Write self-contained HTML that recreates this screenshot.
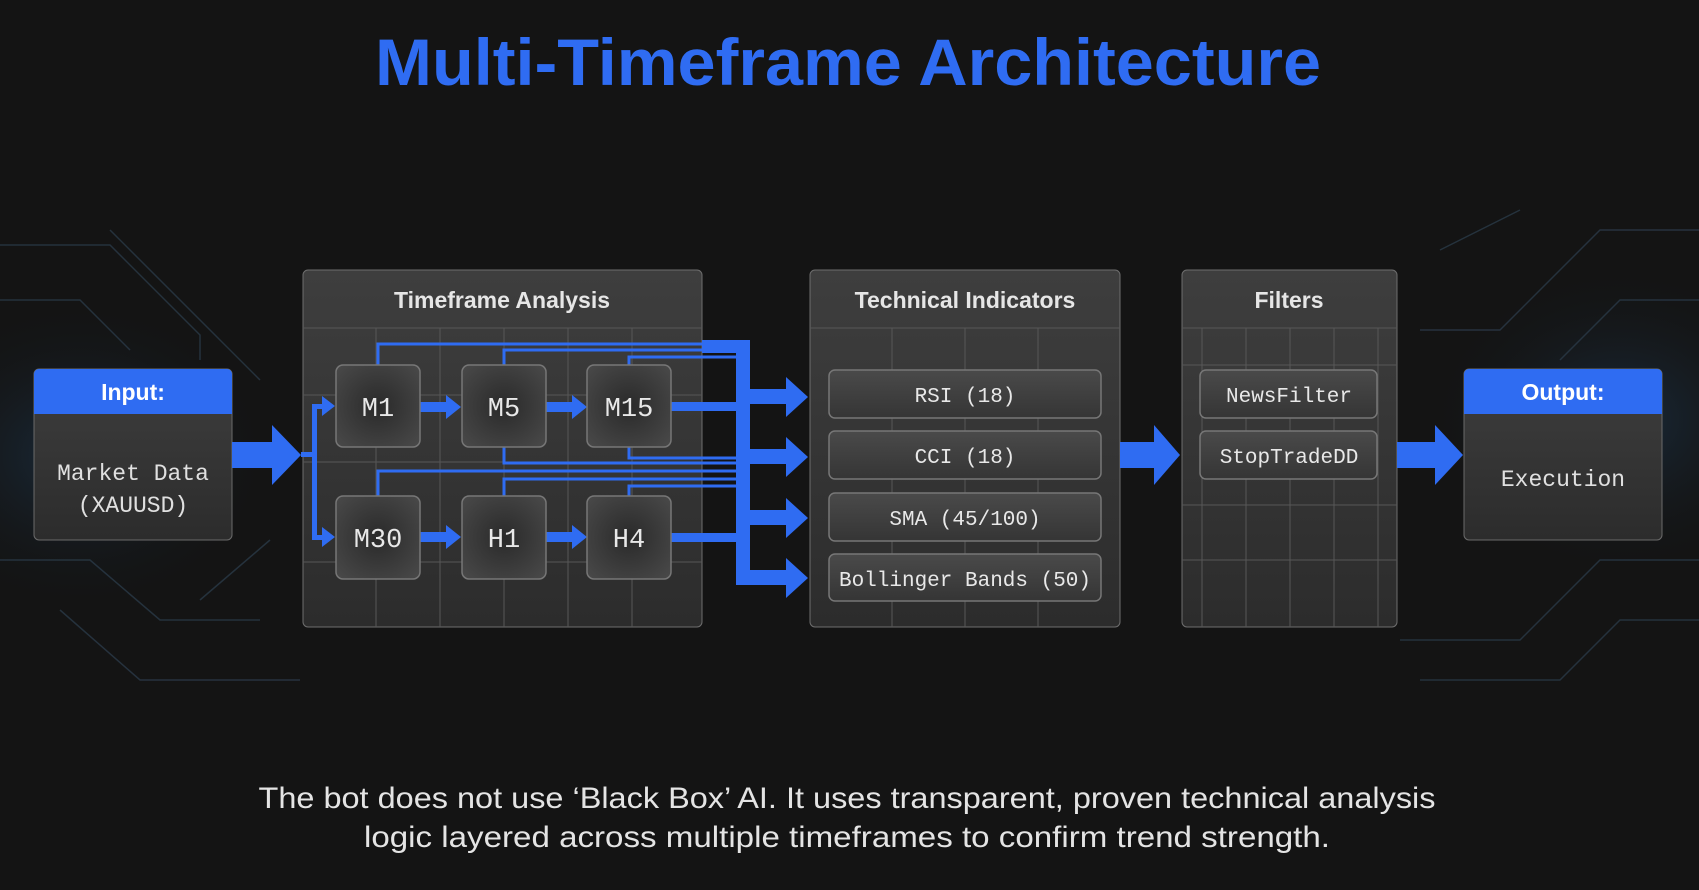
<!DOCTYPE html>
<html><head><meta charset="utf-8"><style>
html,body{margin:0;padding:0;background:#141414;}
svg{display:block}
</style></head><body>
<svg width="1699" height="890" viewBox="0 0 1699 890" xmlns="http://www.w3.org/2000/svg">
<defs>
<linearGradient id="box" x1="0" y1="0" x2="0" y2="1"><stop offset="0" stop-color="#3e3e3e"/><stop offset="1" stop-color="#2c2c2c"/></linearGradient>
<radialGradient id="node" cx="0.5" cy="0.5" r="0.7"><stop offset="0" stop-color="#2a2a2a"/><stop offset="1" stop-color="#4a4a4a"/></radialGradient>
<linearGradient id="pill" x1="0" y1="0" x2="0" y2="1"><stop offset="0" stop-color="#4a4a4a"/><stop offset="1" stop-color="#353535"/></linearGradient>
<radialGradient id="glowL" cx="0.5" cy="0.5" r="0.5"><stop offset="0" stop-color="#1d3a55" stop-opacity="0.6"/><stop offset="1" stop-color="#141414" stop-opacity="0"/></radialGradient>
</defs>
<rect width="1699" height="890" fill="#141414"/>
<ellipse cx="80" cy="455" rx="200" ry="160" fill="url(#glowL)"/>
<ellipse cx="1620" cy="420" rx="200" ry="160" fill="url(#glowL)"/>
<g stroke="#2a3a48" stroke-width="1.5" fill="none" opacity="0.8">
<path d="M0 245 H110 L200 335 V360"/><path d="M0 300 H80 L130 350"/><path d="M110 230 L260 380"/><path d="M0 560 H90 L160 620 H260"/><path d="M60 610 L140 680 H300"/><path d="M200 600 L270 540"/>
<path d="M1699 230 H1600 L1500 330 H1420"/><path d="M1699 300 H1620 L1560 360"/><path d="M1699 560 H1600 L1520 640 H1400"/><path d="M1699 620 H1620 L1560 680 H1420"/><path d="M1440 250 L1520 210"/>
</g>
<text x="848" y="85" text-anchor="middle" font-family="Liberation Sans, sans-serif" font-weight="bold" font-size="66" fill="#2f6cf2" textLength="946" lengthAdjust="spacingAndGlyphs">Multi-Timeframe Architecture</text>

<!-- Input -->
<rect x="34" y="369" width="198" height="171" rx="5" fill="url(#box)" stroke="#6a6a6a"/>
<path d="M34 374 a5 5 0 0 1 5 -5 H227 a5 5 0 0 1 5 5 V414 H34Z" fill="#2f6cf2"/>
<text x="133" y="400" text-anchor="middle" font-family="Liberation Sans, sans-serif" font-weight="bold" font-size="23" fill="#fff">Input:</text>
<text x="133" y="480" text-anchor="middle" font-family="Liberation Mono, monospace" font-size="23" fill="#e0e0e0">Market Data</text>
<text x="133" y="512" text-anchor="middle" font-family="Liberation Mono, monospace" font-size="23" fill="#e0e0e0">(XAUUSD)</text>

<!-- Output -->
<rect x="1464" y="369" width="198" height="171" rx="5" fill="url(#box)" stroke="#6a6a6a"/>
<path d="M1464 374 a5 5 0 0 1 5 -5 H1657 a5 5 0 0 1 5 5 V414 H1464Z" fill="#2f6cf2"/>
<text x="1563" y="400" text-anchor="middle" font-family="Liberation Sans, sans-serif" font-weight="bold" font-size="23" fill="#fff">Output:</text>
<text x="1563" y="486" text-anchor="middle" font-family="Liberation Mono, monospace" font-size="23" fill="#e0e0e0">Execution</text>

<!-- Panels -->
<g stroke="#5a5a5a" stroke-width="1" fill="none">
</g>
<rect x="303" y="270" width="399" height="357" rx="5" fill="url(#box)" stroke="#6e6e6e"/>
<rect x="810" y="270" width="310" height="357" rx="5" fill="url(#box)" stroke="#6e6e6e"/>
<rect x="1182" y="270" width="215" height="357" rx="5" fill="url(#box)" stroke="#6e6e6e"/>
<g stroke="#575757" stroke-width="1">
<line x1="303" y1="328" x2="702" y2="328"/><line x1="810" y1="328" x2="1120" y2="328"/><line x1="1182" y1="328" x2="1397" y2="328"/>
<line x1="303" y1="395" x2="702" y2="395"/><line x1="303" y1="462" x2="702" y2="462"/><line x1="303" y1="562" x2="702" y2="562"/>
<line x1="376" y1="328" x2="376" y2="627"/><line x1="440" y1="328" x2="440" y2="627"/><line x1="504" y1="328" x2="504" y2="627"/><line x1="568" y1="328" x2="568" y2="627"/><line x1="632" y1="328" x2="632" y2="627"/>
<line x1="892" y1="328" x2="892" y2="627"/><line x1="965" y1="328" x2="965" y2="627"/><line x1="1038" y1="328" x2="1038" y2="627"/>
<line x1="1202" y1="328" x2="1202" y2="627"/><line x1="1246" y1="328" x2="1246" y2="627"/><line x1="1290" y1="328" x2="1290" y2="627"/><line x1="1334" y1="328" x2="1334" y2="627"/><line x1="1378" y1="328" x2="1378" y2="627"/>
<line x1="1182" y1="365" x2="1397" y2="365"/><line x1="1182" y1="505" x2="1397" y2="505"/><line x1="1182" y1="560" x2="1397" y2="560"/>
</g>
<text x="502" y="308" text-anchor="middle" font-family="Liberation Sans, sans-serif" font-weight="bold" font-size="23" fill="#e6e6e6">Timeframe Analysis</text>
<text x="965" y="308" text-anchor="middle" font-family="Liberation Sans, sans-serif" font-weight="bold" font-size="23" fill="#e6e6e6">Technical Indicators</text>
<text x="1289" y="308" text-anchor="middle" font-family="Liberation Sans, sans-serif" font-weight="bold" font-size="23" fill="#e6e6e6">Filters</text>

<!-- blue thin lines -->
<g stroke="#2f6cf2" stroke-width="3" fill="none">
<path d="M378 365 V344 H740"/><path d="M504 365 V350 H740"/><path d="M629 365 V357 H740"/>
<path d="M504 447 V463 H740"/><path d="M629 447 V458 H740"/>
<path d="M378 496 V471 H740"/><path d="M504 496 V479 H740"/><path d="M629 496 V486 H740"/>
</g>
<!-- fan -->
<g fill="#2f6cf2">
<rect x="702" y="340" width="48" height="13"/>
<rect x="736" y="340" width="14" height="245"/>
<rect x="671" y="402" width="70" height="9"/>
<rect x="671" y="533" width="70" height="9"/>
<rect x="736" y="449" width="14" height="16"/>
<g id="fh"><rect x="748" y="389" width="40" height="15"/><polygon points="786,377 808,397 786,417"/></g>
<use href="#fh" y="60"/><use href="#fh" y="121"/><use href="#fh" y="181"/>
<!-- big arrows -->
<rect x="232" y="442" width="42" height="26"/><polygon points="272,425 301,455 272,485"/>
<rect x="1120" y="442" width="36" height="26"/><polygon points="1154,425 1180,455 1154,485"/>
<rect x="1397" y="442" width="40" height="26"/><polygon points="1435,425 1463,455 1435,485"/>
<!-- split -->
<rect x="301" y="452" width="14" height="5"/>
<rect x="312" y="406" width="5" height="134"/>
<rect x="312" y="404" width="12" height="5"/><polygon points="322,396 335,406 322,416"/>
<rect x="312" y="535" width="12" height="5"/><polygon points="322,527 335,537 322,547"/>
<!-- row arrows -->
<rect x="420" y="402" width="28" height="10"/><polygon points="446,395 461,407 446,419"/>
<rect x="546" y="402" width="28" height="10"/><polygon points="572,395 587,407 572,419"/>
<rect x="420" y="532" width="28" height="10"/><polygon points="446,525 461,537 446,549"/>
<rect x="546" y="532" width="28" height="10"/><polygon points="572,525 587,537 572,549"/>
</g>
<!-- nodes -->
<g stroke="#777" stroke-width="1.5" fill="url(#node)">
<rect x="336" y="365" width="84" height="82" rx="7"/><rect x="462" y="365" width="84" height="82" rx="7"/><rect x="587" y="365" width="84" height="82" rx="7"/>
<rect x="336" y="496" width="84" height="83" rx="7"/><rect x="462" y="496" width="84" height="83" rx="7"/><rect x="587" y="496" width="84" height="83" rx="7"/>
</g>
<g font-family="Liberation Mono, monospace" font-size="27" fill="#e8e8e8" text-anchor="middle">
<text x="378" y="416">M1</text><text x="504" y="416">M5</text><text x="629" y="416">M15</text>
<text x="378" y="547">M30</text><text x="504" y="547">H1</text><text x="629" y="547">H4</text>
</g>
<!-- pills -->
<g stroke="#777" stroke-width="1.5" fill="url(#pill)">
<rect x="829" y="370" width="272" height="48" rx="6"/><rect x="829" y="431" width="272" height="48" rx="6"/>
<rect x="829" y="493" width="272" height="48" rx="6"/><rect x="829" y="554" width="272" height="47" rx="6"/>
<rect x="1200" y="370" width="177" height="48" rx="6"/><rect x="1200" y="431" width="177" height="48" rx="6"/>
</g>
<g font-family="Liberation Mono, monospace" font-size="21" fill="#e8e8e8" text-anchor="middle">
<text x="965" y="402">RSI (18)</text><text x="965" y="463">CCI (18)</text><text x="965" y="525">SMA (45/100)</text>
<text x="965" y="586">Bollinger Bands (50)</text>
<text x="1289" y="402">NewsFilter</text><text x="1289" y="463">StopTradeDD</text>
</g>
<g font-family="Liberation Sans, sans-serif" font-size="30" fill="#e4e4e4" text-anchor="middle">
<text x="847" y="808" textLength="1177" lengthAdjust="spacingAndGlyphs">The bot does not use ‘Black Box’ AI. It uses transparent, proven technical analysis</text>
<text x="847" y="847" textLength="966" lengthAdjust="spacingAndGlyphs">logic layered across multiple timeframes to confirm trend strength.</text>
</g>
</svg>
</body></html>
